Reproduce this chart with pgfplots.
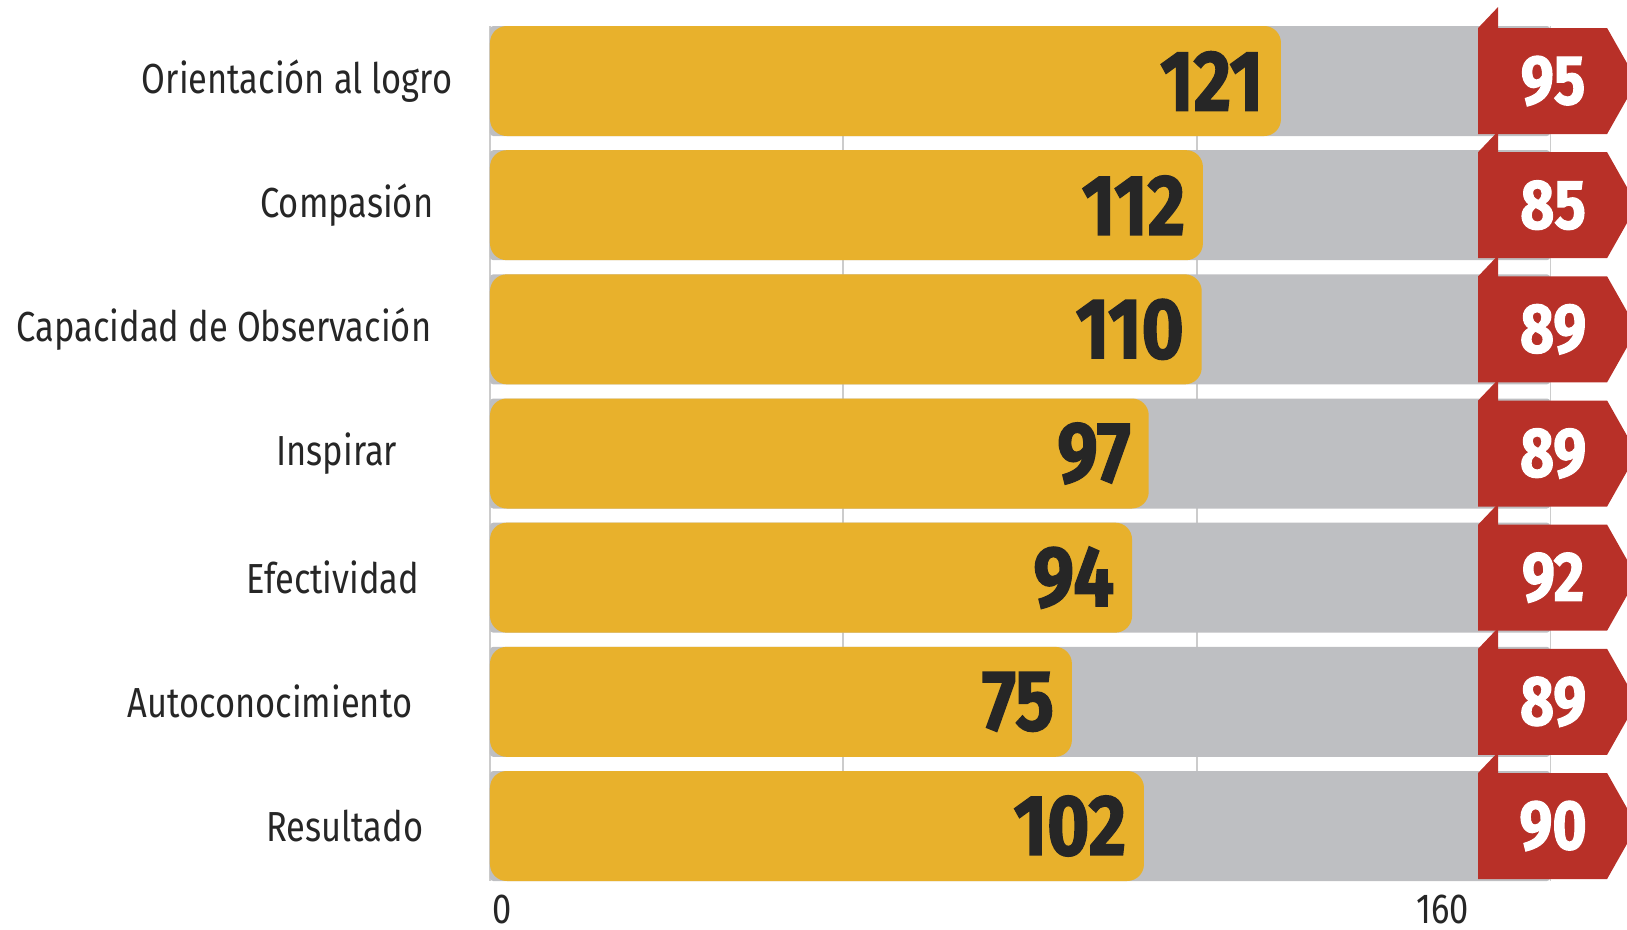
\documentclass[border=0pt]{standalone}
\usepackage{fontspec}
\setmainfont{Fira Sans}[FakeStretch=0.82]
\newfontfamily\numfont{Fira Sans}[FakeStretch=0.84, FakeBold=1.6]
\usepackage{pgfplots}
\pgfplotsset{compat=1.18}
\usepackage{pgfplotstable}
\definecolor{gold}{HTML}{E8B12C}
\definecolor{barbg}{HTML}{BEBFC2}
\definecolor{tagred}{HTML}{B83028}
\definecolor{ink}{HTML}{262626}
\definecolor{gridgrey}{HTML}{CCCCCC}

% bar length (as drawn), printed value, tag value
\pgfplotstableread{
row len lab red full tagx
1 132.8 121 95 178 165.9
2 119.7 112 85 178 165.9
3 119.5 110 89 178 165.9
4 110.6 97 89 178 165.9
5 107.8 94 92 178 165.9
6 97.7 75 89 178 165.9
7 109.8 102 90 178 165.9
}\data

% red ribbon tag, anchored at its left middle
\pgfdeclareplotmark{tag}{%
  \pgfpathmoveto{\pgfpoint{0pt}{-13.25pt}}%
  \pgfpathlineto{\pgfpoint{0pt}{13.25pt}}%
  \pgfpathlineto{\pgfpoint{32.25pt}{13.25pt}}%
  \pgfpathlineto{\pgfpoint{39.75pt}{0pt}}%
  \pgfpathlineto{\pgfpoint{32.25pt}{-13.25pt}}%
  \pgfpathclose
  \pgfpathmoveto{\pgfpoint{0pt}{13.25pt}}%
  \pgfpathlineto{\pgfpoint{5pt}{18.5pt}}%
  \pgfpathlineto{\pgfpoint{5pt}{13.25pt}}%
  \pgfpathclose
  \pgfusepathqfill}

\begin{document}
\begin{tikzpicture}
\begin{axis}[
    name=ax, scale only axis,
    width=284.25pt, height=213.75pt,
    xmin=0, xmax=190.9, ymin=0.557, ymax=7.443,
    y dir=reverse, clip=false,
    axis line style={draw=none}, major tick length=0pt,
    ytick={1,...,7},
    yticklabels={Orientación al logro,
                 Compasión\hspace*{4.75pt},
                 Capacidad de Observación\hspace*{5.25pt},
                 Inspirar\hspace*{13.75pt},
                 Efectividad\hspace*{8.25pt},
                 Autoconocimiento\hspace*{10pt},
                 Resultado\hspace*{7.25pt}},
    yticklabel style={anchor=east, inner sep=0pt, xshift=-9.25pt,
                      font=\fontsize{10.5}{12}\selectfont, text=ink},
    xtick={0,59.27,118.7,178}, xticklabels={},
    xmajorgrids, grid style={gridgrey, line width=0.3pt},
    extra x ticks={0,160}, extra x tick labels={\hspace*{6pt}0,160},
    extra x tick style={grid=none},
    xticklabel style={anchor=north, inner sep=0pt, yshift=-3.25pt,
                      font=\fontsize{10.5}{12}\selectfont, text=ink},
]
\addplot[xbar, bar width=27.5pt, bar shift=0pt, fill=barbg, draw=none,
         rounded corners=0.8pt]
    table[x=full, y=row] {\data};
\addplot[xbar, bar width=27.5pt, bar shift=0pt, fill=gold, draw=none,
         rounded corners=4.2pt,
         point meta=explicit symbolic, nodes near coords,
         nodes near coords style={anchor=east, xshift=-4.3pt, inner sep=0pt,
            font=\numfont\bfseries\fontsize{21.5}{21.5}\selectfont, text=ink}]
    table[x=len, y=row, meta=lab] {\data};
\addplot[only marks, mark=tag, color=tagred,
         point meta=explicit symbolic, nodes near coords,
         nodes near coords style={anchor=center, xshift=18.75pt, inner sep=0pt,
            font=\numfont\bfseries\fontsize{17.5}{17.5}\selectfont, text=white}]
    table[x=tagx, y=row, meta=red] {\data};
\end{axis}
\pgfresetboundingbox
\path[use as bounding box] ([xshift=-122.5pt,yshift=-12.25pt]ax.south west)
    rectangle ([yshift=6.5pt]ax.north east);
\end{tikzpicture}
\end{document}
